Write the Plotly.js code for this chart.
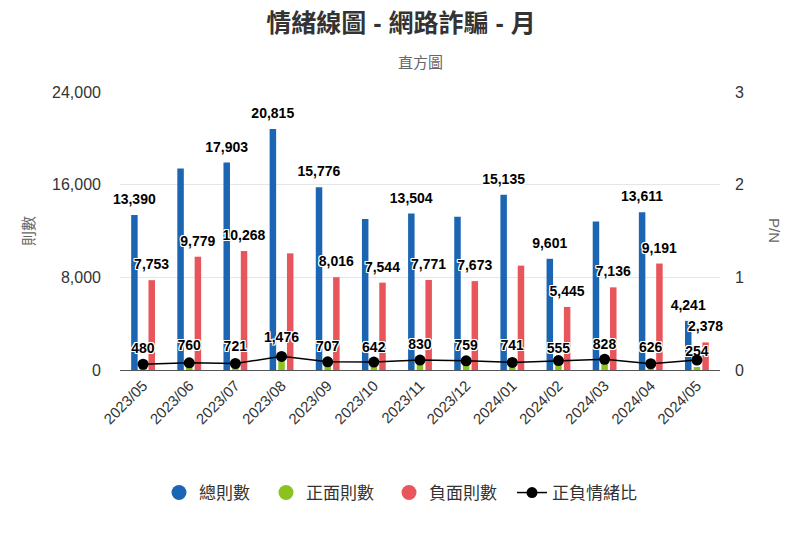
<!DOCTYPE html>
<html>
<head>
<meta charset="utf-8">
<script src="https://cdn.plot.ly/plotly-3.0.1.min.js"></script>
<style>
  html, body { margin: 0; padding: 0; background: #fff; }
  #chart { width: 802px; height: 534px; }
</style>
</head>
<body>
<div id="chart"></div>
<script>
// ---- data ----
const months = ['2023/05','2023/06','2023/07','2023/08','2023/09','2023/10','2023/11','2023/12','2024/01','2024/02','2024/03','2024/04','2024/05'];
const total    = [13390, 17400, 17903, 20815, 15776, 13040, 13504, 13240, 15135, 9601, 12810, 13611, 4241];
const positive = [480, 760, 721, 1476, 707, 642, 830, 759, 741, 555, 828, 626, 254];
const negative = [7753, 9779, 10268, 10070, 8016, 7544, 7771, 7673, 9010, 5445, 7136, 9191, 2378];
const ratio    = [0.062, 0.078, 0.070, 0.147, 0.088, 0.085, 0.107, 0.099, 0.082, 0.102, 0.116, 0.068, 0.107];
// which data labels are visible in the reference (others hidden by overlap)
const totalLabelShown    = [1,0,1,1,1,0,1,0,1,1,0,1,1];
const positiveLabelShown = [1,1,1,1,1,1,1,1,1,1,1,1,1];
const negativeLabelShown = [1,1,1,0,1,1,1,1,0,1,1,1,1];
const seriesNames = ['總則數', '正面則數', '負面則數', '正負情緒比'];

// ---- styles ----
const FONT = "'Helvetica Neue', Helvetica, Arial, 'Liberation Sans', 'Noto Sans CJK TC', sans-serif";
const BLUE = '#1c65b3', GREEN = '#8cc21f', RED = '#e8555a';
const OUTLINE = '-1px -1px 0 #fff, 1px -1px 0 #fff, -1px 1px 0 #fff, 1px 1px 0 #fff, 0 1px 0 #fff, 0 -1px 0 #fff, 1px 0 0 #fff, -1px 0 0 #fff';
const Y_MAX = 24000;
const PLOT_H = 278;                       // plot height in px
const LABEL_LIFT = 5 * Y_MAX / PLOT_H;    // extra 5px gap between bar top and its label

const fmt = v => v.toLocaleString('en-US');
const labels = (vals, shown) => vals.map((v, i) => shown[i] ? fmt(v) : '');

function barTrace(vals, color, group) {
  return {
    type: 'bar', x: months, y: vals, offsetgroup: group,
    marker: { color: color, cornerradius: 3, line: { width: 0 } },
    showlegend: false, hoverinfo: 'x+y'
  };
}
// invisible companion bars that carry the data labels (drawn above every bar)
function labelTrace(vals, shown, group) {
  return {
    type: 'bar', x: months, y: vals.map(v => v + LABEL_LIFT), offsetgroup: group,
    marker: { color: 'rgba(0,0,0,0)' },
    text: labels(vals, shown), textposition: 'outside', textangle: 0,
    constraintext: 'none', cliponaxis: false,
    textfont: { family: FONT, size: 14, color: '#000', weight: 'bold', shadow: OUTLINE },
    showlegend: false, hoverinfo: 'skip'
  };
}
function legendDummy(name, color, legendId) {
  return {
    type: 'scatter', mode: 'markers', x: [null], y: [null], name: name,
    legend: legendId,
    marker: { color: color, size: 15 }, showlegend: true, hoverinfo: 'skip'
  };
}

const data = [
  barTrace(total, BLUE, 'a'),
  barTrace(positive, GREEN, 'b'),
  barTrace(negative, RED, 'c'),
  labelTrace(total, totalLabelShown, 'a'),
  labelTrace(positive, positiveLabelShown, 'b'),
  labelTrace(negative, negativeLabelShown, 'c'),
  legendDummy(seriesNames[0], BLUE, 'legend'),
  legendDummy(seriesNames[1], GREEN, 'legend2'),
  legendDummy(seriesNames[2], RED, 'legend3'),
  {
    type: 'scatter', mode: 'lines+markers', x: months, y: ratio, yaxis: 'y2',
    name: seriesNames[3], legend: 'legend4',
    line: { color: '#000', width: 1.5 },
    marker: { color: '#000', size: 11 },
    cliponaxis: false
  }
];

const legendY = (370 - 493) / PLOT_H;
function legendAt(px) {
  return {
    orientation: 'h', x: (px - 120) / 600, xanchor: 'left', y: legendY, yanchor: 'middle',
    font: { family: FONT, size: 17, color: '#333' }, bgcolor: 'rgba(0,0,0,0)'
  };
}

const layout = {
  width: 802, height: 534,
  margin: { l: 120, r: 82, t: 92, b: 164 },
  paper_bgcolor: '#fff', plot_bgcolor: '#fff',
  font: { family: FONT, color: '#333' },
  title: {
    text: '情緒線圖 - 網路詐騙 - 月',
    font: { family: FONT, size: 25, color: '#333', weight: 'bold' },
    x: 0.5, xanchor: 'center', y: 1 - 23 / 534, yanchor: 'middle', yref: 'container'
  },
  barmode: 'group', bargap: 0.437, bargroupgap: 0.25,
  xaxis: {
    type: 'category', range: [-0.5, months.length - 0.5], autorange: false,
    tickangle: -45, showgrid: false,
    showline: true, linecolor: '#555', linewidth: 1, ticks: '',
    tickfont: { family: FONT, size: 15, color: '#333' }
  },
  yaxis: {
    range: [0, Y_MAX], tickvals: [0, 8000, 16000, 24000], tickformat: ',d',
    showgrid: true, gridcolor: '#e6e6e6', zeroline: false, showline: false,
    ticks: '', ticklabelstandoff: 18,
    tickfont: { family: FONT, size: 16, color: '#333' }
  },
  yaxis2: {
    overlaying: 'y', side: 'right', range: [0, 3], tickvals: [0, 1, 2, 3],
    showgrid: false, zeroline: false, showline: false, ticks: '',
    ticklabelstandoff: 14,
    tickfont: { family: FONT, size: 16, color: '#333' }
  },
  legend: legendAt(179 - 20),
  legend2: legendAt(286 - 20),
  legend3: legendAt(409 - 20),
  legend4: legendAt(532 - 20),
  annotations: [
    { text: '直方圖', xref: 'paper', yref: 'paper', x: 0.5, y: (370 - 62) / PLOT_H,
      xanchor: 'center', yanchor: 'middle', showarrow: false,
      font: { family: FONT, size: 15, color: '#666' } },
    { text: '則數', xref: 'paper', yref: 'paper', x: (28 - 120) / 600, y: 0.5,
      xanchor: 'center', yanchor: 'middle', showarrow: false, textangle: -90,
      font: { family: FONT, size: 15, color: '#666' } },
    { text: 'P/N', xref: 'paper', yref: 'paper', x: (775 - 120) / 600, y: 0.5,
      xanchor: 'center', yanchor: 'middle', showarrow: false, textangle: 90,
      font: { family: FONT, size: 15, color: '#666' } }
  ]
};

Plotly.newPlot('chart', data, layout, { displayModeBar: false, staticPlot: true });
</script>
</body>
</html>
